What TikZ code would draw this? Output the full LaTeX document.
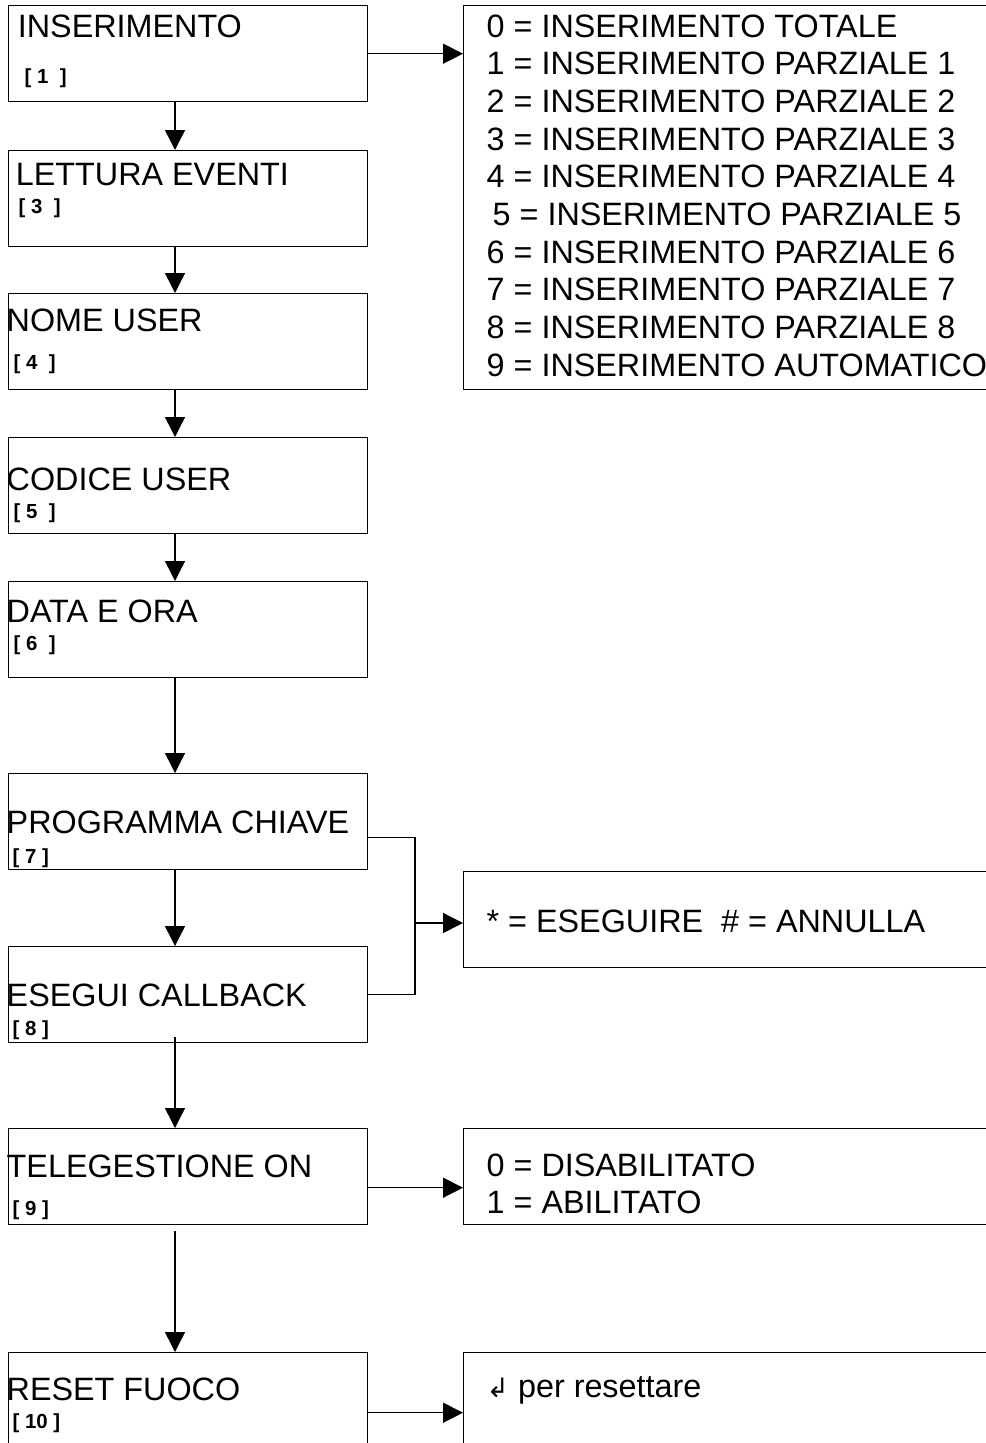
\documentclass[tikz,border=0pt]{standalone}
\usepackage{fontspec}
\setmainfont{Liberation Sans}
\newfontfamily\symfont{DejaVu Sans}
\usetikzlibrary{arrows.meta}

\begin{document}
\begin{tikzpicture}[line width=1pt]
    \tikzstyle{box}=[draw,rectangle,anchor=north west,inner sep=0pt,minimum width=8.975cm,minimum height=2.4cm];
    \tikzstyle{rbox}=[box,minimum width=13.6cm];
    \tikzstyle{txt}=[anchor=base west,inner sep=0pt,font=\fontsize{23}{27}\selectfont];
    \tikzstyle{num}=[anchor=base west,inner sep=0pt,font=\fontsize{14.5}{17}\selectfont\bfseries];
    \tikzstyle{arr}=[-{Triangle[length=0.5cm,width=0.5cm]}];
    \clip (0,0) rectangle (24.65,-36.075);
    % left column
    \node[box] at (0.2,-0.125) (b1) {};
    \node[box] at (0.2,-3.75) (b2) {};
    \node[box] at (0.2,-7.325) (b3) {};
    \node[box] at (0.2,-10.925) (b4) {};
    \node[box] at (0.2,-14.525) (b5) {};
    \node[box] at (0.2,-19.325) (b6) {};
    \node[box] at (0.2,-23.65) (b7) {};
    \node[box] at (0.2,-28.2) (b8) {};
    \node[box,minimum height=3cm] at (0.2,-33.8) (b9) {};
    % right column
    \node[rbox,minimum height=9.6cm] at (11.575,-0.125) (r1) {};
    \node[rbox] at (11.575,-21.775) (r2) {};
    \node[rbox] at (11.575,-28.2) (r3) {};
    \node[rbox,minimum height=3cm] at (11.575,-33.8) (r4) {};
    % texts
    \node[txt] at (0.43,-0.925) (t1) {INSERIMENTO};
    \node[num] at (0.6,-2.075) (n1) {[ 1 \ ]};
    \node[txt] at (0.38,-4.625) (t2) {LETTURA EVENTI};
    \node[num] at (0.45,-5.325) (n2) {[ 3 \ ]};
    \node[txt] at (0.15,-8.275) (t3) {NOME USER};
    \node[num] at (0.325,-9.225) (n3) {[ 4 \ ]};
    \node[txt] at (0.15,-12.25) (t4) {CODICE USER};
    \node[num] at (0.325,-12.95) (n4) {[ 5 \ ]};
    \node[txt] at (0.15,-15.55) (t5) {DATA E ORA};
    \node[num] at (0.325,-16.25) (n5) {[ 6 \ ]};
    \node[txt] at (0.15,-20.825) (t6) {PROGRAMMA CHIAVE};
    \node[num] at (0.3,-21.575) (n6) {[ 7 ]};
    \node[txt] at (0.15,-25.15) (t7) {ESEGUI CALLBACK};
    \node[num] at (0.3,-25.875) (n7) {[ 8 ]};
    \node[txt] at (0.15,-29.425) (t8) {TELEGESTIONE ON};
    \node[num] at (0.3,-30.375) (n8) {[ 9 ]};
    \node[txt] at (0.15,-35.0) (t9) {RESET FUOCO};
    \node[num] at (0.3,-35.7) (n9) {[ 10 ]};
    \node[txt] at (12.15,-0.925) (l0) {0 = INSERIMENTO TOTALE};
    \node[txt] at (12.15,-1.867) (l1) {1 = INSERIMENTO PARZIALE 1};
    \node[txt] at (12.15,-2.808) (l2) {2 = INSERIMENTO PARZIALE 2};
    \node[txt] at (12.15,-3.75) (l3) {3 = INSERIMENTO PARZIALE 3};
    \node[txt] at (12.15,-4.692) (l4) {4 = INSERIMENTO PARZIALE 4};
    \node[txt] at (12.3,-5.633) (l5) {5 = INSERIMENTO PARZIALE 5};
    \node[txt] at (12.15,-6.575) (l6) {6 = INSERIMENTO PARZIALE 6};
    \node[txt] at (12.15,-7.517) (l7) {7 = INSERIMENTO PARZIALE 7};
    \node[txt] at (12.15,-8.458) (l8) {8 = INSERIMENTO PARZIALE 8};
    \node[txt] at (12.15,-9.4) (l9) {9 = INSERIMENTO AUTOMATICO};
    \node[txt] at (12.15,-23.3) (e1) {* = ESEGUIRE \ \# = ANNULLA};
    \node[txt] at (12.15,-29.4) (d0) {0 = DISABILITATO};
    \node[txt] at (12.15,-30.325) (d1) {1 = ABILITATO};
    \node[txt] at (12.15,-34.925) (rs) {{\symfont\fontsize{19}{21}\selectfont ↲} per resettare};
    % connectors
    \draw[arr] ([xshift=4.175cm]b1.south west) -- ([xshift=4.175cm]b2.north west);
    \draw[arr] ([xshift=4.175cm]b2.south west) -- ([xshift=4.175cm]b3.north west);
    \draw[arr] ([xshift=4.175cm]b3.south west) -- ([xshift=4.175cm]b4.north west);
    \draw[arr] ([xshift=4.175cm]b4.south west) -- ([xshift=4.175cm]b5.north west);
    \draw[arr] ([xshift=4.175cm]b5.south west) -- ([xshift=4.175cm]b6.north west);
    \draw[arr] ([xshift=4.175cm]b6.south west) -- ([xshift=4.175cm]b7.north west);
    \draw[arr] ([xshift=4.175cm,yshift=0.15cm]b7.south west) -- ([xshift=4.175cm]b8.north west);
    \draw[arr] ([xshift=4.175cm,yshift=-0.15cm]b8.south west) -- ([xshift=4.175cm]b9.north west);
    \draw[arr] (b1.east) -- (b1.east -| r1.west);
    \coordinate (jn) at (10.375,-23.075);
    \draw ([yshift=-0.4cm]b6.east) -| (jn) |- (b7.east);
    \draw[arr] (jn) -- (jn -| r2.west);
    \coordinate (s8) at ([yshift=-0.275cm]b8.east);
    \draw[arr] (s8) -- (s8 -| r3.west);
    \draw[arr] (b9.east) -- (b9.east -| r4.west);
\end{tikzpicture}
\end{document}
